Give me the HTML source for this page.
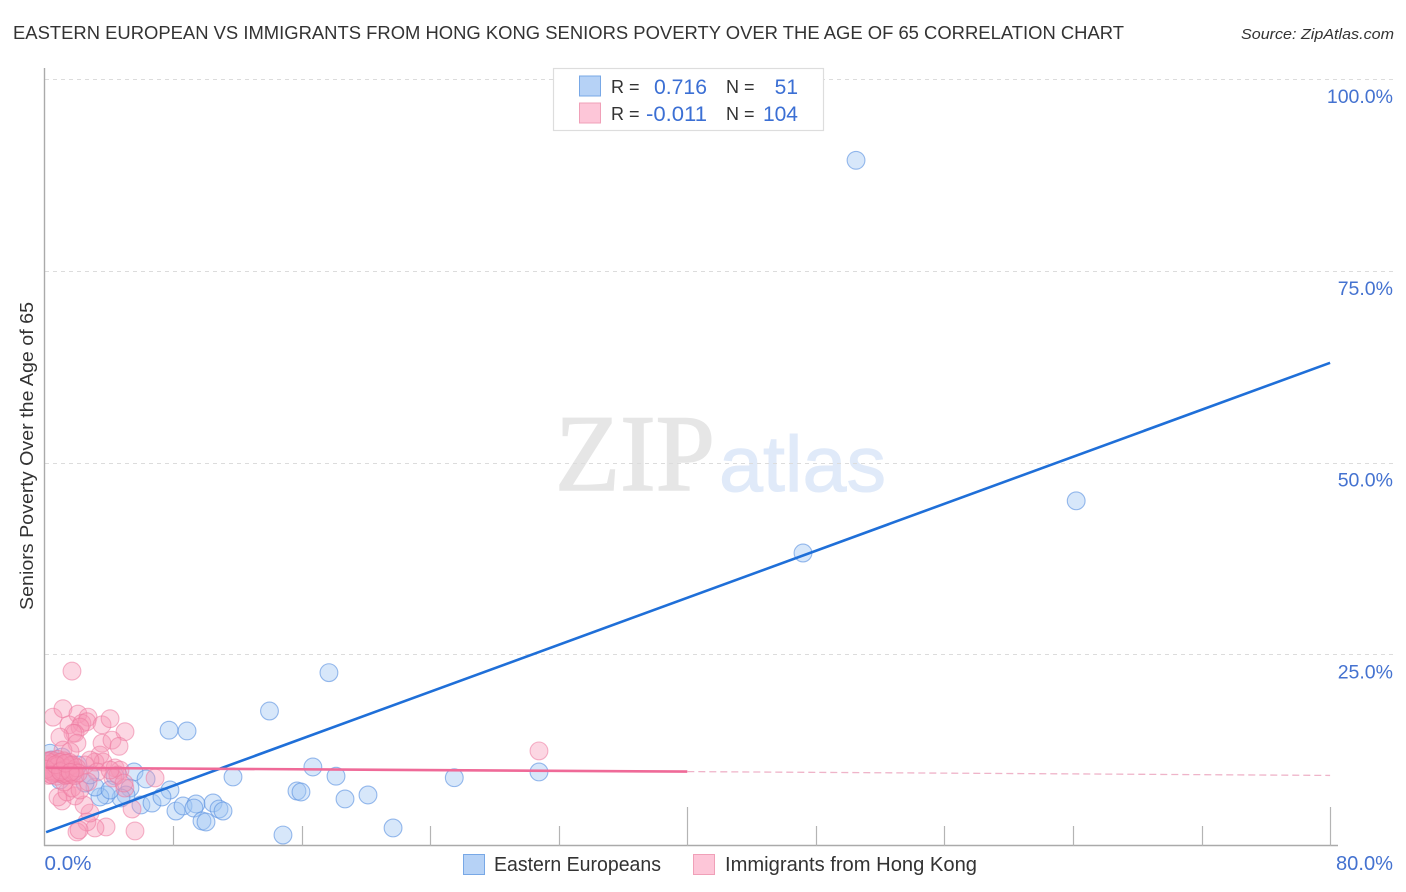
<!DOCTYPE html>
<html>
<head>
<meta charset="utf-8">
<title>Eastern European vs Immigrants from Hong Kong Seniors Poverty Correlation Chart</title>
<style>
html,body{margin:0;padding:0;background:#fff;width:1406px;height:892px;overflow:hidden}
svg{display:block;font-family:"Liberation Sans",sans-serif}
</style>
</head>
<body>
<svg id="chart" width="1406" height="892" viewBox="0 0 1406 892" xmlns="http://www.w3.org/2000/svg">
  <defs><clipPath id="plot-clip"><rect x="45" y="60" width="1300" height="786"/></clipPath></defs>
  <rect x="0" y="0" width="1406" height="892" fill="#fff"/>
  <text x="13" y="39" font-size="18.5" fill="#333" textLength="1111" lengthAdjust="spacingAndGlyphs">EASTERN EUROPEAN VS IMMIGRANTS FROM HONG KONG SENIORS POVERTY OVER THE AGE OF 65 CORRELATION CHART</text>
  <text x="1241" y="39" font-size="15" font-style="italic" fill="#333" textLength="153" lengthAdjust="spacingAndGlyphs">Source: ZipAtlas.com</text>
  <text x="555" y="490" font-family="'Liberation Serif',serif" font-size="109" fill="#e6e6e6" stroke="#e6e6e6" stroke-width="1.6" textLength="160" lengthAdjust="spacingAndGlyphs">ZIP</text>
  <text x="719" y="491" font-size="79" fill="#e0eaf9" stroke="#e0eaf9" stroke-width="1" textLength="167" lengthAdjust="spacingAndGlyphs">atlas</text>
  <g id="grid"></g>
  <g id="axes"></g>
  <g id="blue-points" clip-path="url(#plot-clip)"></g>
  <g id="pink-points" clip-path="url(#plot-clip)"></g>
  <g id="trends"></g>
  <text transform="translate(33,610) rotate(-90)" font-size="18" fill="#333" textLength="308" lengthAdjust="spacingAndGlyphs">Seniors Poverty Over the Age of 65</text>
  <g>
    <rect x="553.5" y="68.5" width="270" height="62" fill="#fff" stroke="#ddd" stroke-width="1.2"/>
    <rect x="579.5" y="76" width="21" height="20" fill="#b6d2f6" stroke="#78a8e6" stroke-width="1"/>
    <rect x="579.5" y="103" width="21" height="20" fill="#fdc6d8" stroke="#f0a0b8" stroke-width="1"/>
    <text x="611" y="93" font-size="18" fill="#333">R =</text>
    <text x="654" y="94" font-size="21" fill="#3b6fd4" textLength="53" lengthAdjust="spacingAndGlyphs">0.716</text>
    <text x="726" y="93" font-size="18" fill="#333">N =</text>
    <text x="798" y="94" font-size="21" fill="#3b6fd4" text-anchor="end">51</text>
    <text x="611" y="120" font-size="18" fill="#333">R =</text>
    <text x="646" y="121" font-size="21" fill="#3b6fd4" textLength="61" lengthAdjust="spacingAndGlyphs">-0.011</text>
    <text x="726" y="120" font-size="18" fill="#333">N =</text>
    <text x="798" y="121" font-size="21" fill="#3b6fd4" text-anchor="end">104</text>
  </g>
  <g>
    <rect x="463.5" y="854.5" width="21" height="20" fill="#b6d2f6" stroke="#78a8e6" stroke-width="1"/>
    <text x="494" y="871" font-size="20" fill="#333" textLength="167" lengthAdjust="spacingAndGlyphs">Eastern Europeans</text>
    <rect x="693.5" y="854.5" width="21" height="20" fill="#fdc6d8" stroke="#f0a0b8" stroke-width="1"/>
    <text x="725" y="871" font-size="20" fill="#333" textLength="252" lengthAdjust="spacingAndGlyphs">Immigrants from Hong Kong</text>
  </g>
</svg>
<script>
var yTickValues = [25, 50, 75, 100];
var yTickLabels = ["25.0%", "50.0%", "75.0%", "100.0%"];
var xTickValues = [8, 16, 24, 32, 40, 48, 56, 64, 72, 80];
var xTallTicks = [40, 80];
var xEdgeValues = [0, 80];
var xEdgeLabels = ["0.0%", "80.0%"];

var blueX = [50.5,64.2,47.2,17.7,14.0,7.75,8.87,11.73,16.7,18.14,25.5,30.77,15.71,15.96,18.7,20.13,14.84,21.69,5.57,6.32,7.81,5.32,6.0,6.69,7.31,8.18,8.62,9.43,9.3,10.49,10.86,11.11,9.8,10.05,5.07,4.76,3.83,3.45,4.39,3.14,2.52,0.34,4.08,0.47,0.72,1.09,1.59,2.08,2.83,0.96,0.22];
var blueY = [89.4,45.0,38.2,22.6,17.6,15.1,15.0,9.0,10.3,9.1,8.9,9.65,7.17,7.04,6.13,6.65,1.43,2.35,9.65,8.74,7.3,7.56,5.35,5.6,6.39,4.56,5.22,5.48,4.95,5.61,4.82,4.56,3.26,3.13,6.65,6.26,6.65,6.39,9.13,7.69,8.21,12.1,7.3,11.2,9.9,11.6,9.65,10.56,9.26,8.6,10.2];

var pinkX = [1.71,0.53,1.15,2.08,2.71,1.52,2.33,2.64,2.21,1.9,1.77,3.58,4.08,5.01,2.02,0.96,3.58,4.2,4.64,1.15,1.59,
3.83,3.14,2.64,2.02,2.15,5.63,2.83,2.46,5.45,1.09,0.84,1.9,1.4,1.71,1.21,2.21,6.88,30.77,
3.45,3.14,3.64,4.39,4.7,4.26,4.57,5.0,2.83,2.52,3.27,4.08,4.95,2.71,
0.05,0.1,0.2,0.25,0.3,0.4,0.45,0.5,0.55,0.6,0.7,0.75,0.8,0.85,0.9,1.0,1.05,1.1,1.15,1.2,1.3,1.35,1.4,1.45,1.5,1.55,1.6,1.7,1.75,1.8,1.9,0.15,0.35,0.65,0.95,1.25,0.2,0.5,0.8,1.1,1.4,1.65,1.85,2.0,2.1,0.1,0.4,0.7,1.0,1.3,1.6];
var pinkY = [22.8,16.8,17.9,17.2,16.8,15.8,16.0,16.2,15.5,14.7,14.7,15.8,16.6,14.9,13.4,14.2,13.4,13.8,13.0,12.5,12.3,
2.48,2.35,3.13,1.83,2.09,1.96,4.3,5.35,4.82,5.87,6.39,6.52,7.04,7.56,8.34,7.3,8.87,12.4,
11.86,10.95,10.95,10.17,9.9,8.87,9.26,7.56,11.2,10.56,9.65,9.9,8.21,8.34,
9.6,10.6,11.1,9.2,10.2,11.2,9.3,10.8,9.8,11.0,10.1,9.1,11.3,9.5,10.5,10.9,9.9,9.4,10.4,11.1,9.2,10.0,10.8,9.3,9.7,10.9,10.3,9.4,10.6,9.9,9.2,10.7,9.8,10.3,10.9,9.5,11.0,9.6,10.4,9.9,10.1,10.5,9.7,10.2,9.5,10.0,9.3,10.6,9.7,10.8,9.6];

var trendXRange = [0.1, 80];
var blueTrendY = [1.8, 63];
var pinkTrendY = [10.2, 9.2];
var pinkSolidEndX = 40;

var svgNS = "http://www.w3.org/2000/svg";
function xScale(v) { return 44.5 + v * 16.07; }
function yScale(v) { return 846 - v * 7.67; }
function make(tag, attrs, parent) {
  var el = document.createElementNS(svgNS, tag);
  for (var k in attrs) { el.setAttribute(k, attrs[k]); }
  parent.appendChild(el);
  return el;
}
var gridG = document.getElementById("grid");
var axesG = document.getElementById("axes");
var blueG = document.getElementById("blue-points");
var pinkG = document.getElementById("pink-points");
var trendG = document.getElementById("trends");

yTickValues.forEach(function (v, i) {
  var y = Math.round(yScale(v)) + 0.5;
  var line = make("line", {x1: 45, x2: 1393, y1: y, y2: y, stroke: "#dcdcdc", "stroke-width": 1, "stroke-dasharray": "4 4"}, gridG);
  
  
  var label = make("text", {x: 1393, y: yScale(v) + 24, "font-size": 19.5, fill: "#4472d0", "text-anchor": "end"}, axesG);
  label.textContent = yTickLabels[i];
  
  
});

var yAxisLine = make("line", {x1: 44.5, x2: 44.5, y1: 68, y2: 846, stroke: "#aaa", "stroke-width": 1.4}, axesG);


var xAxisLine = make("line", {x1: 44, x2: 1338, y1: 845.5, y2: 845.5, stroke: "#aaa", "stroke-width": 1.4}, axesG);



xTickValues.forEach(function (v) {
  var tall = xTallTicks.indexOf(v) >= 0;
  var x = Math.round(xScale(v)) + 0.5;
  var tick = make("line", {x1: x, x2: x, y1: tall ? 807 : 826, y2: 846, stroke: "#b4b4b4", "stroke-width": 1.2}, axesG);
  
  
});

xEdgeValues.forEach(function (v, i) {
  var label = make("text", {x: i === 0 ? xScale(v) : 1336, y: 870, "font-size": 20, fill: "#4472d0", textLength: i === 0 ? 47 : 57, lengthAdjust: "spacingAndGlyphs"}, axesG);
  label.textContent = xEdgeLabels[i];
  
  
});

blueX.forEach(function (v, i) {
  var c = make("circle", {cx: xScale(v), cy: yScale(blueY[i]), r: 8.9, fill: "rgba(160,198,244,0.42)", stroke: "rgba(90,145,225,0.62)", "stroke-width": 1.1}, blueG);
  
  
});
pinkX.forEach(function (v, i) {
  var c = make("circle", {cx: xScale(v), cy: yScale(pinkY[i]), r: 8.9, fill: "rgba(248,150,182,0.38)", stroke: "rgba(236,120,158,0.55)", "stroke-width": 1.1}, pinkG);
  
  
});

function pinkAt(x) {
  return pinkTrendY[0] + (pinkTrendY[1] - pinkTrendY[0]) * (x - trendXRange[0]) / (trendXRange[1] - trendXRange[0]);
}
var blueLine = make("line", {x1: xScale(trendXRange[0]), y1: yScale(blueTrendY[0]), x2: xScale(trendXRange[1]), y2: yScale(blueTrendY[1]), stroke: "#1f6fd8", "stroke-width": 2.6}, trendG);


var pinkSolid = make("line", {x1: xScale(trendXRange[0]), y1: yScale(pinkAt(trendXRange[0])), x2: xScale(pinkSolidEndX), y2: yScale(pinkAt(pinkSolidEndX)), stroke: "#ef6a98", "stroke-width": 2.6}, trendG);


var pinkDash = make("line", {x1: xScale(pinkSolidEndX), y1: yScale(pinkAt(pinkSolidEndX)), x2: xScale(trendXRange[1]), y2: yScale(pinkAt(trendXRange[1])), stroke: "#efb4c9", "stroke-width": 1.3, "stroke-dasharray": "7 4"}, trendG);


</script>
</body>
</html>
